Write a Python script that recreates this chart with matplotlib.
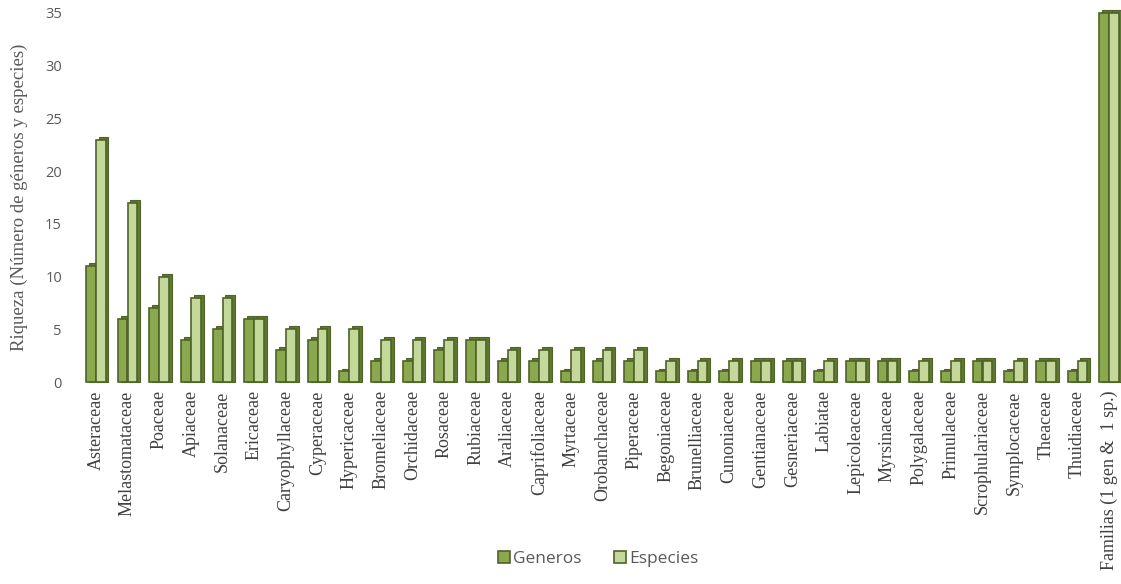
import matplotlib.pyplot as plt
import numpy as np
from matplotlib.patches import Patch

familias = ["Asteraceae", "Melastomataceae", "Poaceae", "Apiaceae", "Solanaceae",
            "Ericaceae", "Caryophyllaceae", "Cyperaceae", "Hypericaceae", "Bromeliaceae",
            "Orchidaceae", "Rosaceae", "Rubiaceae", "Araliaceae", "Caprifoliaceae",
            "Myrtaceae", "Orobanchaceae", "Piperaceae", "Begoniaceae", "Brunelliaceae",
            "Cunoniaceae", "Gentianaceae", "Gesneriaceae", "Labiatae", "Lepicoleaceae",
            "Myrsinaceae", "Polygalaceae", "Primulaceae", "Scrophulariaceae", "Symplocaceae",
            "Theaceae", "Thuidiaceae", "Familias (1 gen &  1 sp.)"]
generos = [11, 6, 7, 4, 5, 6, 3, 4, 1, 2, 2, 3, 4, 2, 2, 1, 2, 2, 1, 1, 1, 2, 2, 1, 2, 2,
           1, 1, 2, 1, 2, 1, 35]
especies = [23, 17, 10, 8, 8, 6, 5, 5, 5, 4, 4, 4, 4, 3, 3, 3, 3, 3, 2, 2, 2, 2, 2, 2, 2, 2,
            2, 2, 2, 2, 2, 2, 35]

c_gen = "#8aa84e"
c_esp = "#c4d89c"
c_edge = "#4f6228"
c_side = "#5e7a2c"

fig = plt.figure(figsize=(11.21, 5.84), dpi=100)
ax = fig.add_axes([80 / 1121, 202 / 584, 1045 / 1121, 369 / 584])

x = np.arange(len(familias))
w = 0.31
dx, dy = 0.09, 0.28

# fake 3D depth: darker bar shifted right/up behind the front face
for xs, vals, col in [(x - w / 2, generos, c_gen), (x + w / 2, especies, c_esp)]:
    ax.bar(xs + dx, np.array(vals) + dy, width=w, bottom=0, color=c_side,
           edgecolor=c_edge, linewidth=0.8, zorder=2, clip_on=False)
    ax.bar(xs, vals, width=w, color=col, edgecolor=c_edge, linewidth=1.2, zorder=3,
           clip_on=False)

ax.set_xlim(-0.5, len(familias) - 0.5)
ax.set_ylim(0, 35)
ax.set_yticks(range(0, 36, 5))
ax.tick_params(axis="y", length=0, labelsize=10.5, labelcolor="#595959", pad=13)
for t in ax.get_yticklabels():
    t.set_family("Open Sans")
ax.set_xticks(x)
ax.set_xticklabels(familias, rotation=90, family="Liberation Serif", fontsize=13,
                   color="#404040")
ax.tick_params(axis="x", length=0, pad=6)
for s in ax.spines.values():
    s.set_visible(False)

ax.set_ylabel("Riqueza (Número de géneros y especies)", family="Liberation Serif",
              fontsize=13.5, color="#595959")
ax.yaxis.set_label_coords(-0.05, 0.5)

handles = [Patch(facecolor=c_gen, edgecolor=c_edge, linewidth=1.2, label="Generos"),
           Patch(facecolor=c_esp, edgecolor=c_edge, linewidth=1.2, label="Especies")]
fig.legend(handles=handles, loc="center", bbox_to_anchor=(598 / 1121, 1 - 559 / 584),
           ncol=2, frameon=False, prop={"family": "Open Sans", "size": 12.5},
           labelcolor="#595959", handlelength=0.7, handleheight=0.7, handletextpad=0.15,
           columnspacing=1.9)

fig.savefig("out.png", dpi=100)
